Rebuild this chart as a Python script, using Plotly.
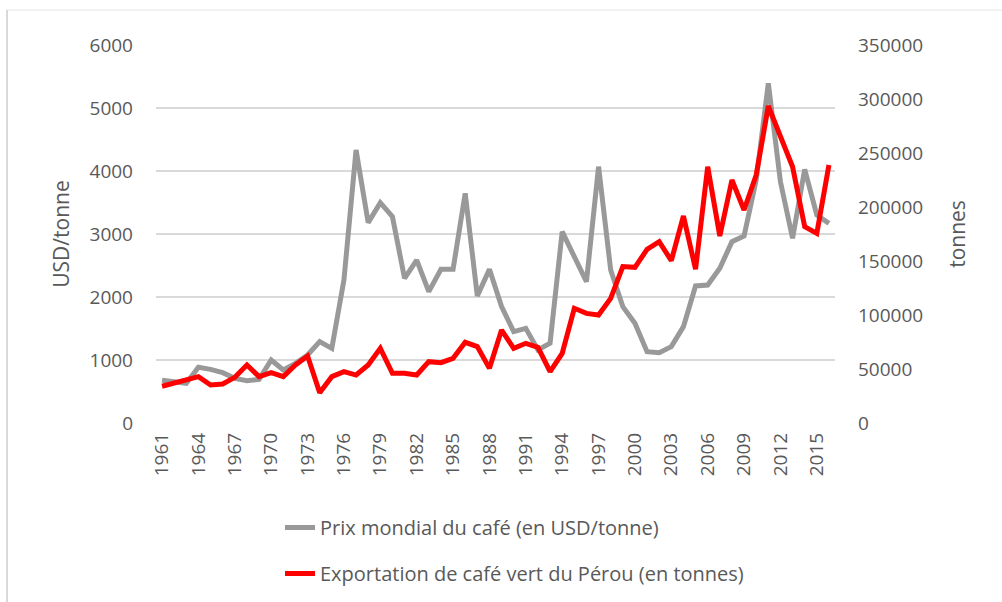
import plotly.graph_objects as go

years = list(range(1961, 2017))

prix_mondial = [680, 656, 630, 884, 852, 799, 709, 671, 693, 1000,
                841, 947, 1079, 1291, 1185, 2270, 4333, 3180, 3497, 3275,
                2296, 2587, 2085, 2439, 2439, 3646, 2016, 2439, 1847, 1450,
                1503, 1159, 1265, 3037, 2640, 2243, 4069, 2429, 1847, 1582,
                1132, 1116, 1212, 1529, 2175, 2190, 2455, 2878, 2968, 3857,
                5392, 3831, 2931, 4026, 3302, 3169]

export_perou = [34000, 37300, 40400, 42900, 35200, 36100, 42300, 53700, 42900, 46600,
                42900, 53700, 62000, 28100, 42900, 47500, 44400, 53700, 69100, 46000,
                46000, 44400, 56800, 55900, 59900, 74700, 70700, 50600, 86100, 69100,
                73800, 70100, 47500, 64500, 106200, 101500, 100000, 115400, 144800, 144100,
                160800, 167900, 150300, 191700, 142300, 237300, 173100, 225000, 197200, 229600,
                293500, 265100, 237300, 181800, 175600, 238900]

tick_years = list(range(1961, 2017, 3))
left_ticks = [0, 1000, 2000, 3000, 4000, 5000, 6000]
right_ticks = [0, 50000, 100000, 150000, 200000, 250000, 300000, 350000]

name_prix = "Prix mondial du café (en USD/tonne)"
name_export = "Exportation de café vert du Pérou (en tonnes)"

FONT = "Open Sans"
TXT = "#595959"

fig = go.Figure()
fig.add_trace(go.Scatter(x=years, y=prix_mondial, name=name_prix, mode="lines",
                         legendgroup="g1",
                         line=dict(color="#999999", width=5), yaxis="y"))
fig.add_trace(go.Scatter(x=years, y=export_perou, name=name_export, mode="lines",
                         legendgroup="g2",
                         line=dict(color="#ff0000", width=5), yaxis="y2"))

L, R, T, B = 156, 167, 45, 179
W, H = 1002, 602
pw = W - L - R
ph = H - T - B


def px(x):
    return (x - L) / pw


def py(y):
    return (H - B - y) / ph


fig.update_layout(
    width=W, height=H,
    margin=dict(l=L, r=R, t=T, b=B, autoexpand=False),
    paper_bgcolor="white", plot_bgcolor="white",
    font=dict(family=FONT, size=19, color=TXT),
    showlegend=True,
    legend=dict(x=px(280), y=py(508), xanchor="left", yanchor="top",
                orientation="v", tracegroupgap=17,
                font=dict(family=FONT, size=20, color=TXT),
                bgcolor="rgba(0,0,0,0)"),
    xaxis=dict(range=[1960.5, 2016.5], tickmode="array", tickvals=tick_years,
               ticktext=[str(y) for y in tick_years], tickangle=-90,
               showgrid=False, zeroline=False, showline=False, ticks="",
               ticklabelstandoff=5,
               tickfont=dict(family=FONT, size=19, color=TXT)),
    yaxis=dict(range=[0, 6000], tickmode="array", tickvals=left_ticks,
               ticktext=[str(v) for v in left_ticks],
               showgrid=True, gridcolor="#d9d9d9", gridwidth=1.5, zeroline=False,
               showline=False, ticks="", ticklabelstandoff=22,
               title=dict(text="USD/tonne", standoff=14,
                          font=dict(family=FONT, size=21, color=TXT)),
               tickfont=dict(family=FONT, size=19, color=TXT)),
    yaxis2=dict(range=[0, 350000], tickmode="array", tickvals=right_ticks,
                ticktext=[str(v) for v in right_ticks],
                overlaying="y", side="right", showgrid=False, zeroline=False,
                showline=False, ticks="", ticklabelstandoff=22,
                title=dict(text="tonnes", standoff=28,
                           font=dict(family=FONT, size=21, color=TXT)),
                tickfont=dict(family=FONT, size=19, color=TXT)),
)

# chart frame (left and top edges)
fig.add_shape(type="line", xref="paper", yref="paper",
              x0=px(7), x1=px(1002), y0=py(10), y1=py(10),
              line=dict(color="#e6e6e6", width=1))
fig.add_shape(type="line", xref="paper", yref="paper",
              x0=px(7), x1=px(7), y0=py(10), y1=py(602),
              line=dict(color="#d9d9d9", width=2))

fig.write_html("out.html", config={"displayModeBar": False},
               post_script="document.body.style.margin='0';")
